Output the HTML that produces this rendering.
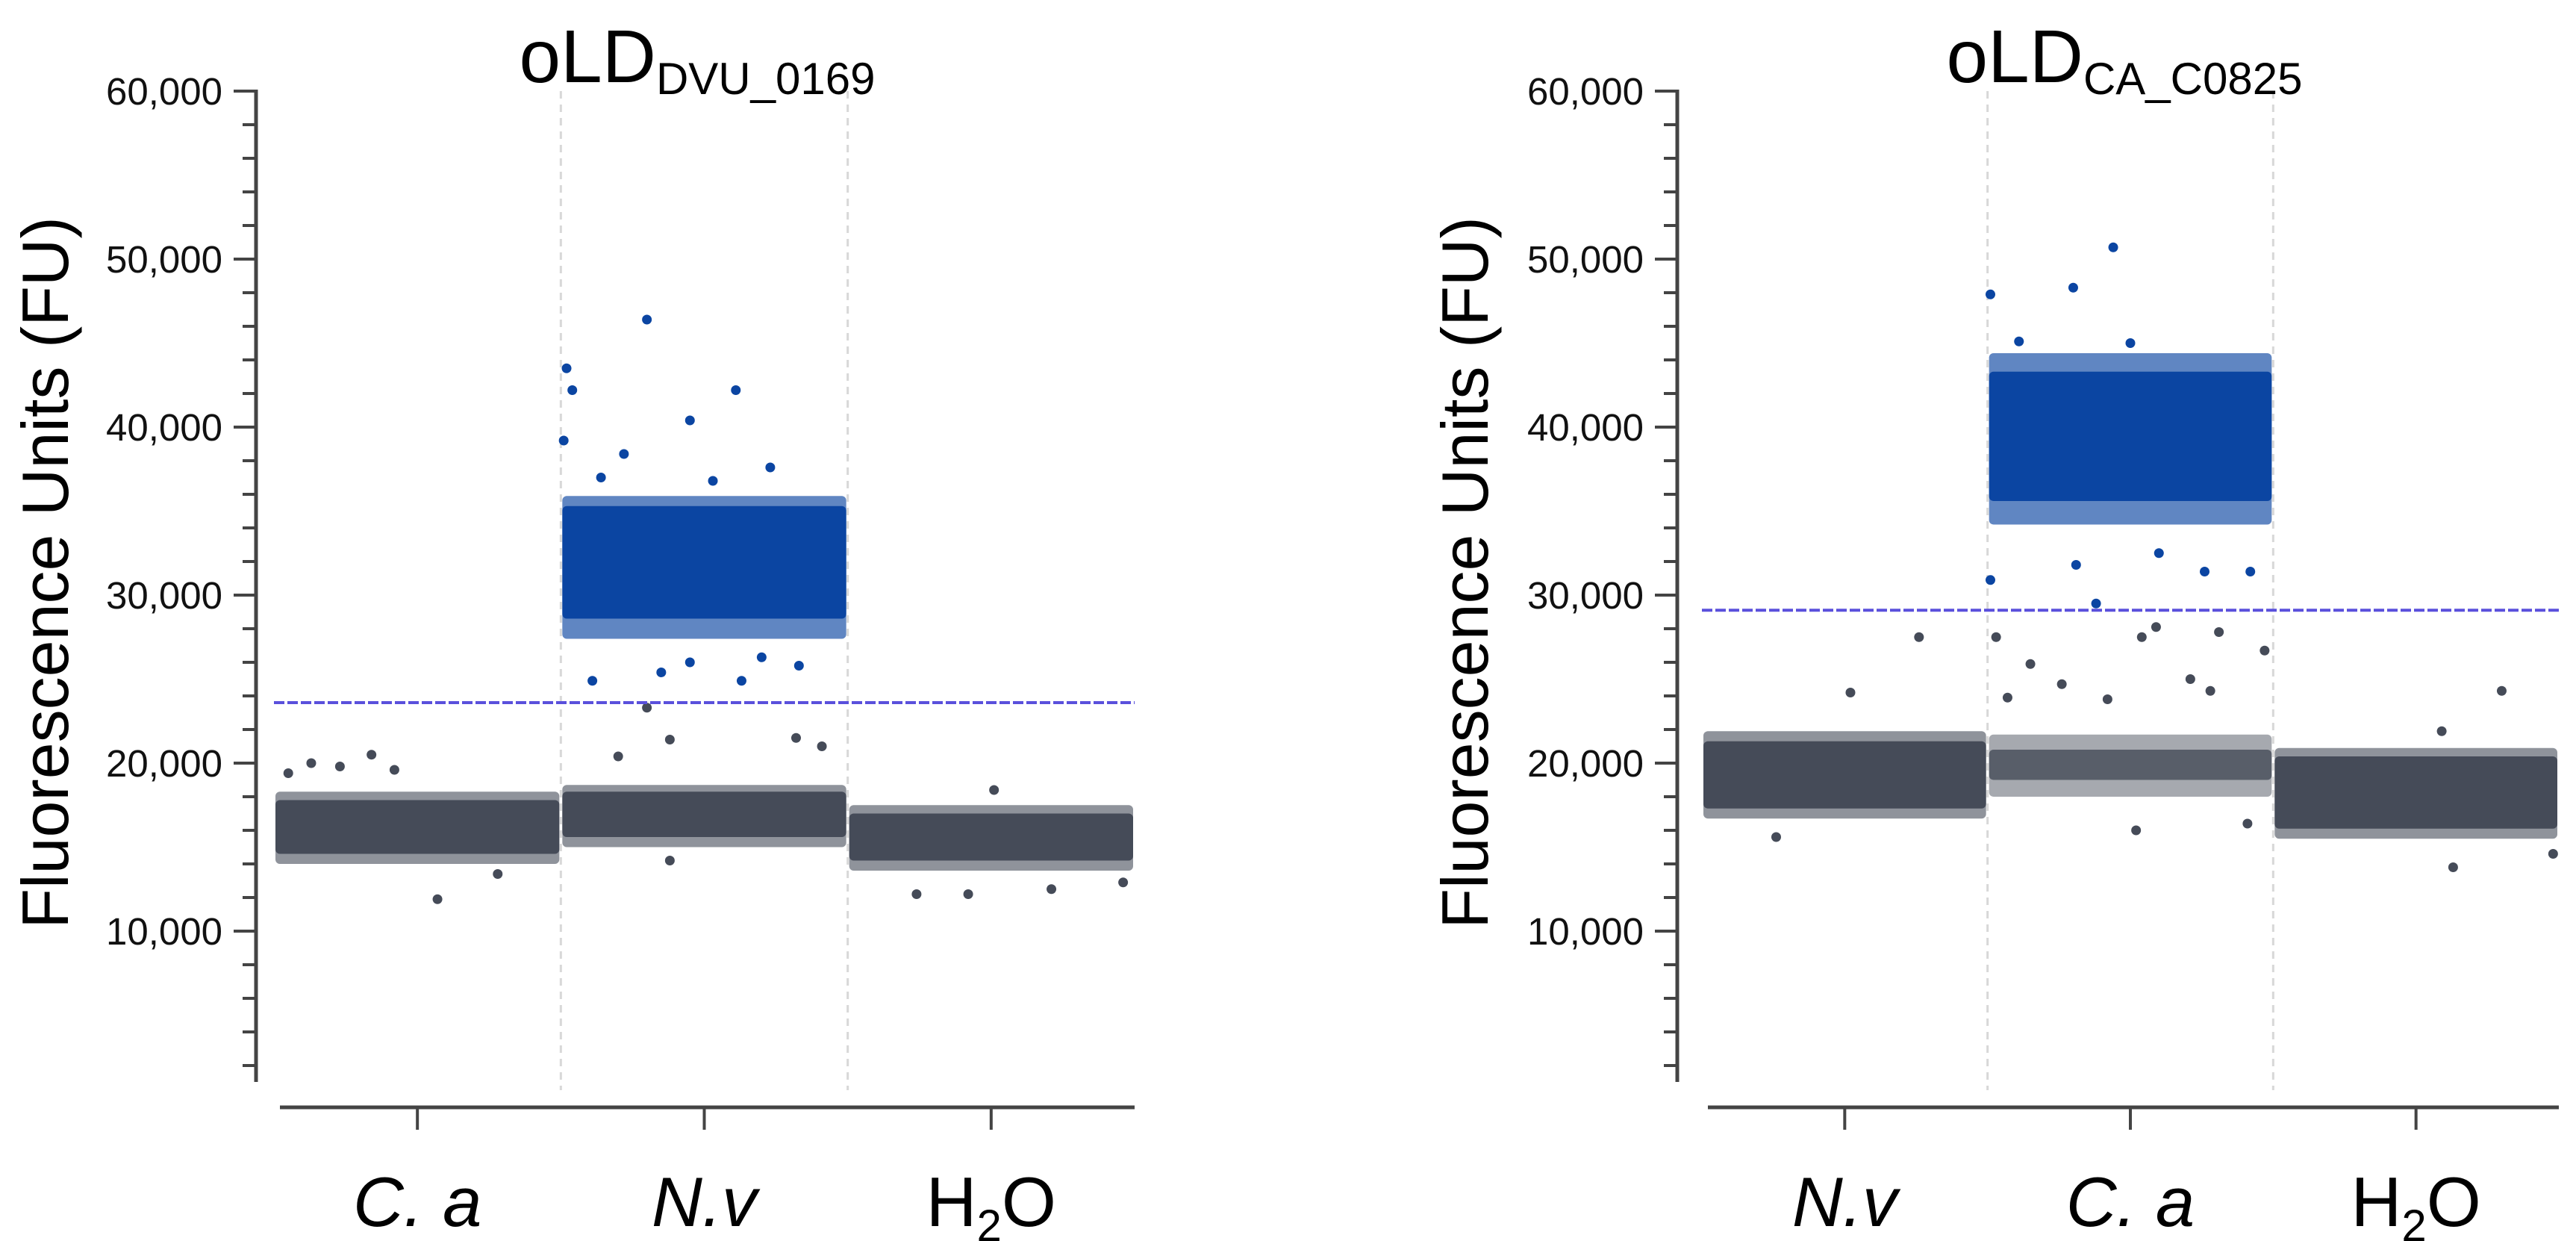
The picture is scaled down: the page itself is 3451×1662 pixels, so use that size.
<!DOCTYPE html>
<html><head><meta charset="utf-8">
<style>
html,body{margin:0;padding:0;background:#fff;}
svg{display:block;font-family:"Liberation Sans",Arial,sans-serif;}
</style></head>
<body>
<svg id="fig" width="3451" height="1662" viewBox="0 0 3451 1662" xmlns="http://www.w3.org/2000/svg"></svg>
<script>
// ---- shared axis data ----
const yTickValues = [10000, 20000, 30000, 40000, 50000, 60000];
const yTickLabels = ["10,000", "20,000", "30,000", "40,000", "50,000", "60,000"];
const yMinorValues = [2000,4000,6000,8000,12000,14000,16000,18000,22000,24000,26000,28000,32000,34000,36000,38000,42000,44000,46000,48000,52000,54000,56000,58000];

// ---- left chart data (oLD DVU_0169) ----
const leftCategories = ["C. a", "N.v", "H2O"];
const leftThreshold = 23600;
const leftGrayCoreLo = [14600, 15600, 14200];
const leftGrayCoreHi = [17800, 18300, 17000];
const leftGrayFringeLo = [14000, 15000, 13600];
const leftGrayFringeHi = [18300, 18700, 17500];
const leftBlueCoreLo = [null, 28600, null];
const leftBlueCoreHi = [null, 35300, null];
const leftBlueFringeLo = [null, 27400, null];
const leftBlueFringeHi = [null, 35900, null];
const leftBlueOutliers = [[1.02,43500],[1.04,42200],[1.01,39200],[1.30,46400],[1.45,40400],[1.61,42200],[1.22,38400],[1.73,37600],[1.11,24900],[1.63,24900],[1.45,26000],[1.83,25800],[1.14,37000],[1.53,36800],[1.35,25400],[1.70,26300]];
const leftGrayOutliers = [[0.05,19400],[0.13,20000],[0.23,19800],[0.34,20500],[0.42,19600],[0.57,11900],[0.78,13400],[1.20,20400],[1.38,21400],[1.82,21500],[1.91,21000],[1.38,14200],[2.24,12200],[2.42,12200],[2.71,12500],[2.96,12900],[2.51,18400],[1.30,23300]];

// ---- right chart data (oLD CA_C0825) ----
const rightCategories = ["N.v", "C. a", "H2O"];
const rightThreshold = 29100;
const rightGrayCoreLo = [17300, 19000, 16100];
const rightGrayCoreHi = [21300, 20800, 20400];
const rightGrayFringeLo = [16700, 18000, 15500];
const rightGrayFringeHi = [21900, 21700, 20900];
const rightBlueCoreLo = [null, 35600, null];
const rightBlueCoreHi = [null, 43300, null];
const rightBlueFringeLo = [null, 34200, null];
const rightBlueFringeHi = [null, 44400, null];
const rightBlueOutliers = [[1.44,50700],[1.30,48300],[1.01,47900],[1.01,30900],[1.38,29500],[1.31,31800],[1.76,31400],[1.92,31400],[1.11,45100],[1.60,32500],[1.50,45000]];
const rightGrayOutliers = [[1.03,27500],[1.59,28100],[1.54,27500],[1.81,27800],[1.15,25900],[1.71,25000],[1.26,24700],[1.07,23900],[1.42,23800],[1.78,24300],[1.97,26700],[1.52,16000],[1.91,16400],[0.76,27500],[0.52,24200],[0.26,15600],[2.80,24300],[2.59,21900],[2.63,13800],[2.98,14600]];

const NS = "http://www.w3.org/2000/svg";
const svg = document.getElementById("fig");
const GRAY = "#454b58", BLUE = "#0b45a2", AXIS = "#444";

function mk(tag, attrs, parent) {
  const el = document.createElementNS(NS, tag);
  for (const k in attrs) el.setAttribute(k, attrs[k]);
  (parent || svg).appendChild(el);
  return el;
}

function yScale(v) { return 122 + (60000 - v) * (1125 / 50000); }

function drawChart(cfg) {
  const g = mk("g", {});
  
  
  const colW = (cfg.plotX1 - cfg.plotX0) / 3;
  const xScale = p => cfg.plotX0 + p * colW;

  [1, 2].forEach(i => {
    const l = mk("line", {x1: xScale(i), x2: xScale(i), y1: 122, y2: 1460, stroke: "#d8d8d8", "stroke-width": 3, "stroke-dasharray": "10 8"}, g);
    
    
  });

  function band(lo, hi, i, color, op, nm) {
    if (lo == null) return;
    const r = mk("rect", {x: xScale(i) + 2, y: yScale(hi), width: colW - 4, height: yScale(lo) - yScale(hi), fill: color, opacity: op, rx: 6}, g);
    
    
  }
  for (let i = 0; i < 3; i++) {
    const grayOp = cfg.sparse[i] ? 0.8 : 1;
    band(cfg.gFLo[i], cfg.gFHi[i], i, GRAY, grayOp * 0.6, 'negative-droplets-fringe');
    band(cfg.gCLo[i], cfg.gCHi[i], i, GRAY, grayOp, 'negative-droplets-' + i);
    band(cfg.bFLo[i], cfg.bFHi[i], i, BLUE, 0.65, 'positive-droplets-fringe');
    band(cfg.bCLo[i], cfg.bCHi[i], i, BLUE, 1, 'positive-droplets-' + i);
  }
  cfg.gOut.forEach(p => {
    const c = mk("circle", {cx: xScale(p[0]), cy: yScale(p[1]), r: 6.5, fill: GRAY}, g);
    
    
  });
  cfg.bOut.forEach(p => {
    const c = mk("circle", {cx: xScale(p[0]), cy: yScale(p[1]), r: 6.5, fill: BLUE}, g);
    
    
  });

  const th = mk("line", {x1: cfg.plotX0, x2: cfg.plotX1, y1: yScale(cfg.threshold), y2: yScale(cfg.threshold), stroke: "#5a50dc", "stroke-width": 4, "stroke-dasharray": "14 4"}, g);
  
  

  const ya = mk("line", {x1: cfg.axisX, x2: cfg.axisX, y1: 120, y2: 1449, stroke: AXIS, "stroke-width": 5}, g);
  
  
  yMinorValues.forEach(v => {
    const t = mk("line", {x1: cfg.axisX - 18, x2: cfg.axisX, y1: yScale(v), y2: yScale(v), stroke: AXIS, "stroke-width": 4}, g);
    
    
  });
  yTickValues.forEach((v, i) => {
    const t = mk("line", {x1: cfg.axisX - 30, x2: cfg.axisX, y1: yScale(v), y2: yScale(v), stroke: AXIS, "stroke-width": 4}, g);
    
    
    const tx = mk("text", {x: cfg.axisX - 45, y: yScale(v) + 18, "text-anchor": "end", "font-size": 51, fill: "#111"}, g);
    tx.textContent = yTickLabels[i];
    
    
  });
  const yt = mk("text", {x: cfg.yTitleX, y: 767, "text-anchor": "middle", "font-size": 88, fill: "#000", transform: `rotate(-90 ${cfg.yTitleX} 767)`, dy: 30}, g);
  yt.textContent = "Fluorescence Units (FU)";
  
  

  const xa = mk("line", {x1: cfg.plotX0 + 8, x2: cfg.plotX1, y1: 1483, y2: 1483, stroke: AXIS, "stroke-width": 5}, g);
  
  
  cfg.categories.forEach((c, i) => {
    const cx = xScale(i + 0.5);
    const t = mk("line", {x1: cx, x2: cx, y1: 1483, y2: 1513, stroke: AXIS, "stroke-width": 4}, g);
    
    
    const tx = mk("text", {x: cx, y: 1642, "text-anchor": "middle", "font-size": 94, fill: "#000"}, g);
    
    
    if (c === "H2O") {
      tx.appendChild(document.createTextNode("H"));
      const s = mk("tspan", {"font-size": 60, dy: 20}, tx);
      s.textContent = "2";
      const o = mk("tspan", {dy: -20}, tx);
      o.textContent = "O";
    } else {
      tx.setAttribute("font-style", "italic");
      tx.textContent = c;
    }
  });

  const tt = mk("text", {x: cfg.titleX, y: 110, "text-anchor": "middle", "font-size": 100, fill: "#000"}, g);
  
  
  tt.appendChild(document.createTextNode("oLD"));
  const sub = mk("tspan", {"font-size": 60, dy: 16}, tt);
  sub.textContent = cfg.sub;
}

drawChart({name: "chart-oLD-DVU-0169", plotX0: 367, plotX1: 1520, axisX: 343, yTitleX: 61, titleX: 934, sub: "DVU_0169",
  categories: leftCategories, threshold: leftThreshold, sparse: [false, false, false],
  gCLo: leftGrayCoreLo, gCHi: leftGrayCoreHi, gFLo: leftGrayFringeLo, gFHi: leftGrayFringeHi,
  bCLo: leftBlueCoreLo, bCHi: leftBlueCoreHi, bFLo: leftBlueFringeLo, bFHi: leftBlueFringeHi,
  gOut: leftGrayOutliers, bOut: leftBlueOutliers});
drawChart({name: "chart-oLD-CA-C0825", plotX0: 2280, plotX1: 3428, axisX: 2247, yTitleX: 1963, titleX: 2846, sub: "CA_C0825",
  categories: rightCategories, threshold: rightThreshold, sparse: [false, true, false],
  gCLo: rightGrayCoreLo, gCHi: rightGrayCoreHi, gFLo: rightGrayFringeLo, gFHi: rightGrayFringeHi,
  bCLo: rightBlueCoreLo, bCHi: rightBlueCoreHi, bFLo: rightBlueFringeLo, bFHi: rightBlueFringeHi,
  gOut: rightGrayOutliers, bOut: rightBlueOutliers});
</script>
</body></html>
